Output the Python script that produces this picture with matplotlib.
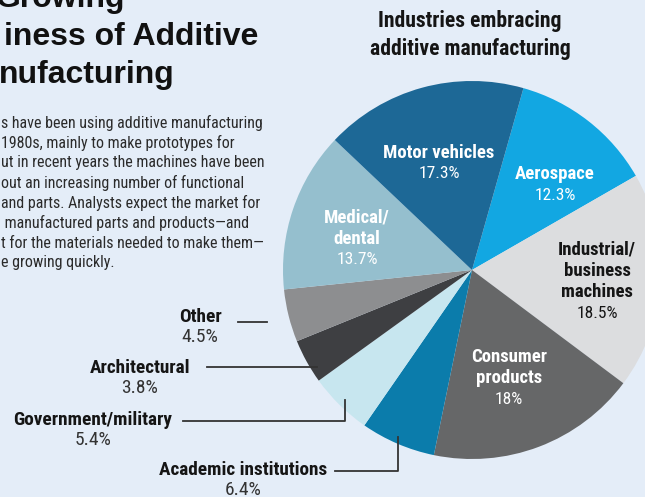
import matplotlib.pyplot as plt
import matplotlib.font_manager as fm

# data
industries = ["Aerospace", "Industrial/\nbusiness\nmachines", "Consumer\nproducts",
              "Academic institutions", "Government/military", "Architectural",
              "Other", "Medical/\ndental", "Motor vehicles"]
shares = [12.3, 18.5, 18.0, 6.4, 5.4, 3.8, 4.5, 13.7, 17.3]
share_text = ["12.3%", "18.5%", "18%", "6.4%", "5.4%", "3.8%", "4.5%", "13.7%", "17.3%"]
colors = ["#12a7e2", "#dcdddf", "#666768", "#0b7cab", "#c7e6ef",
          "#3e3f42", "#8d8e90", "#95bfce", "#1d6896"]

title_lines = ["Growing", "iness of Additive", "nufacturing"]
body_lines = ["s have been using additive manufacturing",
              "1980s, mainly to make prototypes for",
              "ut in recent years the machines have been",
              "out an increasing number of functional",
              "and parts. Analysts expect the market for",
              " manufactured parts and products\u2014and",
              "t for the materials needed to make them\u2014",
              "e growing quickly."]
chart_title = "Industries embracing\nadditive manufacturing"

W, H = 645, 497
BG = "#e4edf8"

# look for a condensed sans face, else plain Roboto
condensed = [f.name for f in fm.fontManager.ttflist if f.stretch != "normal"
             and "Mono" not in f.name and "Serif" not in f.name]
pref = ["Roboto Condensed", "Liberation Sans Narrow", "Noto Sans", "Noto Sans Condensed",
        "Open Sans", "Open Sans Condensed", "DejaVu Sans", "Roboto"]
NARROW = next((n for n in pref if n in condensed), condensed[0] if condensed else "Roboto")
IS_COND = NARROW in condensed
S = 1.0 if IS_COND else 0.86
NFAM = [NARROW, "DejaVu Sans"]
ST = "condensed" if IS_COND else "normal"

fig = plt.figure(figsize=(W / 100, H / 100), dpi=100, facecolor=BG)
ax = fig.add_axes([0, 0, 1, 1])
ax.set_facecolor(BG)


def Y(y):
    # pixel row (from top) -> data y
    return H - y


cx, cy, r = 472, 270, 189
ax.pie(shares, colors=colors, startangle=74.2, counterclock=False,
       center=(cx, Y(cy)), radius=r, wedgeprops=dict(linewidth=0))
ax.set_xlim(0, W)
ax.set_ylim(0, H)
ax.set_aspect("equal")
ax.axis("off")

# headline (cropped in the original)
for (x, y), line in zip([(-4, 7), (4, 45), (-1, 83)], title_lines):
    ax.text(x, Y(y), line, fontsize=23, fontweight="bold",
            family="Liberation Sans", color="#111111", va="baseline")

for i, line in enumerate(body_lines):
    ax.text(1, Y(123 + 20 * i), line, fontsize=11.5 * S, family=NFAM, fontstretch=ST,
            color="#2b2b2b", va="center")

ax.text(470, Y(35), chart_title, fontsize=15.6 * S, fontweight="bold", family=NFAM,
        fontstretch=ST, color="#151515", ha="center", va="center", linespacing=1.3)

# labels inside the wedges: (index, x, y, colour)
inside = [(8, 439, 153, "white"), (0, 555, 174, "white"), (7, 357, 218, "white"),
          (1, 597, 250, "#151515"), (2, 509, 357, "white")]
for i, x, y, c in inside:
    lines = industries[i].split("\n") + [share_text[i]]
    for k, line in enumerate(lines):
        last = k == len(lines) - 1
        ax.text(x, Y(y + 21 * k), line, fontsize=(12.5 if last else 13.5) * S,
                fontweight="normal" if last else "bold", family=NFAM, fontstretch=ST,
                color=c, ha="center", va="center")

# labels outside with leader lines: (index, text x, text y, leader path)
outside = [(6, 200, 317, [(238, 322), (267, 322)]),
           (5, 140, 368, [(207, 367), (317, 367)]),
           (4, 93, 420, [(183, 421), (345, 421), (345, 400)]),
           (3, 243, 470, [(335, 471), (398, 471), (398, 437)])]
for i, x, y, path in outside:
    ax.text(x, Y(y), industries[i], fontsize=13.9 * S, fontweight="bold", family=NFAM,
            fontstretch=ST, color="#151515", ha="center", va="center")
    ax.text(x, Y(y + 20), share_text[i], fontsize=14 * S, family=NFAM, fontstretch=ST,
            color="#333333", ha="center", va="center")
    ax.plot([p[0] for p in path], [Y(p[1]) for p in path], color="#333333", lw=1.3)

fig.savefig("out.png", dpi=100, facecolor=BG)
